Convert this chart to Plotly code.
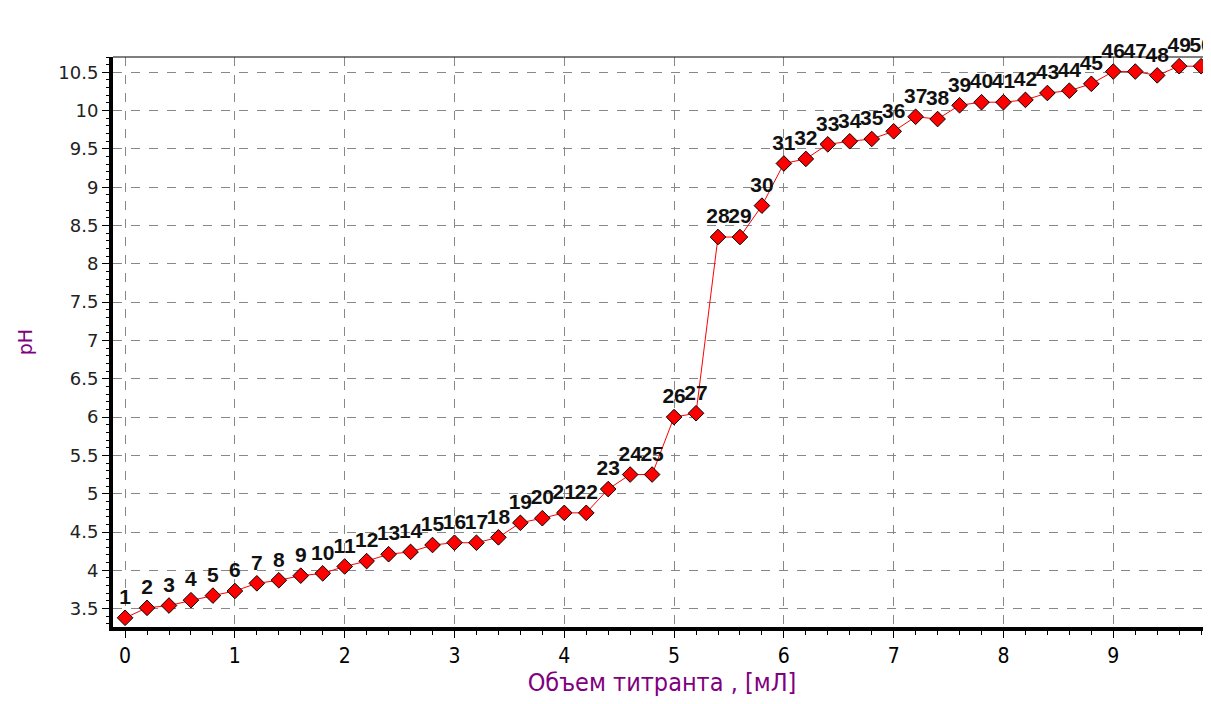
import plotly.graph_objects as go

volume_ml = [0.0, 0.2, 0.4, 0.6, 0.8, 1.0, 1.2, 1.4, 1.6, 1.8,
             2.0, 2.2, 2.4, 2.6, 2.8, 3.0, 3.2, 3.4, 3.6, 3.8,
             4.0, 4.2, 4.4, 4.6, 4.8, 5.0, 5.2, 5.4, 5.6, 5.8,
             6.0, 6.2, 6.4, 6.6, 6.8, 7.0, 7.2, 7.4, 7.6, 7.8,
             8.0, 8.2, 8.4, 8.6, 8.8, 9.0, 9.2, 9.4, 9.6, 9.8]
ph_values = [3.38, 3.51, 3.54, 3.61, 3.67, 3.73, 3.83, 3.87, 3.93, 3.96,
             4.05, 4.12, 4.21, 4.24, 4.33, 4.36, 4.36, 4.43, 4.62, 4.68,
             4.75, 4.75, 5.06, 5.25, 5.25, 6.00, 6.05, 8.35, 8.35, 8.76,
             9.31, 9.37, 9.56, 9.60, 9.63, 9.73, 9.92, 9.89, 10.07, 10.11,
             10.11, 10.14, 10.23, 10.26, 10.35, 10.51, 10.51, 10.46, 10.58, 10.58]
point_labels = [str(i) for i in range(1, 51)]

x_title = "Объем титранта , [мЛ]"
y_title = "pH"

fig = go.Figure()
fig.add_trace(go.Scatter(
    x=volume_ml, y=ph_values, text=point_labels,
    mode="lines+markers+text",
    textposition="top center",
    textfont=dict(family="Liberation Sans Narrow, Liberation Sans, Arial", size=21, color="#111111", weight="bold"),
    line=dict(color="#ff0000", width=1),
    marker=dict(symbol="diamond", size=12, color="#ff0000", line=dict(color="#000000", width=1)),
    cliponaxis=False,
    showlegend=False,
))

fig.update_layout(
    width=1211, height=704,
    margin=dict(l=105, r=8, t=49, b=85),
    paper_bgcolor="white", plot_bgcolor="white",
    xaxis=dict(
        range=[-0.11, 9.89], dtick=1, tick0=0, automargin=False,
        showline=True, linecolor="black", linewidth=4,
        ticks="outside", ticklen=7, tickcolor="black", tickwidth=1,
        minor=dict(dtick=0.2, ticks="outside", ticklen=4, tickcolor="black", showgrid=False),
        showgrid=True, gridcolor="#888888", griddash="dash", gridwidth=1,
        zeroline=False,
        tickfont=dict(family="Liberation Sans Narrow, DejaVu Sans Condensed", size=21, color="black"),
        title=dict(text=x_title, font=dict(family="Liberation Sans Narrow, DejaVu Sans Condensed", size=25, color="#800080"), standoff=6),
    ),
    yaxis=dict(
        range=[3.26, 10.70], dtick=0.5, tick0=3.5, automargin=False,
        showline=True, linecolor="black", linewidth=4,
        ticks="outside", ticklen=7, tickcolor="black", tickwidth=1,
        minor=dict(dtick=0.1, ticks="outside", ticklen=3, tickcolor="black", showgrid=False),
        showgrid=True, gridcolor="#888888", griddash="dash", gridwidth=1,
        zeroline=False,
        tickfont=dict(family="DejaVu Sans", size=18, color="#222222"),
        title=dict(text=y_title, font=dict(family="DejaVu Sans", size=19, color="#800080"), standoff=22),
    ),
    shapes=[dict(type="line", xref="paper", yref="paper", x0=0, x1=1, y0=1, y1=1,
                 line=dict(color="black", width=1))],
)

fig.write_html("out.html")
